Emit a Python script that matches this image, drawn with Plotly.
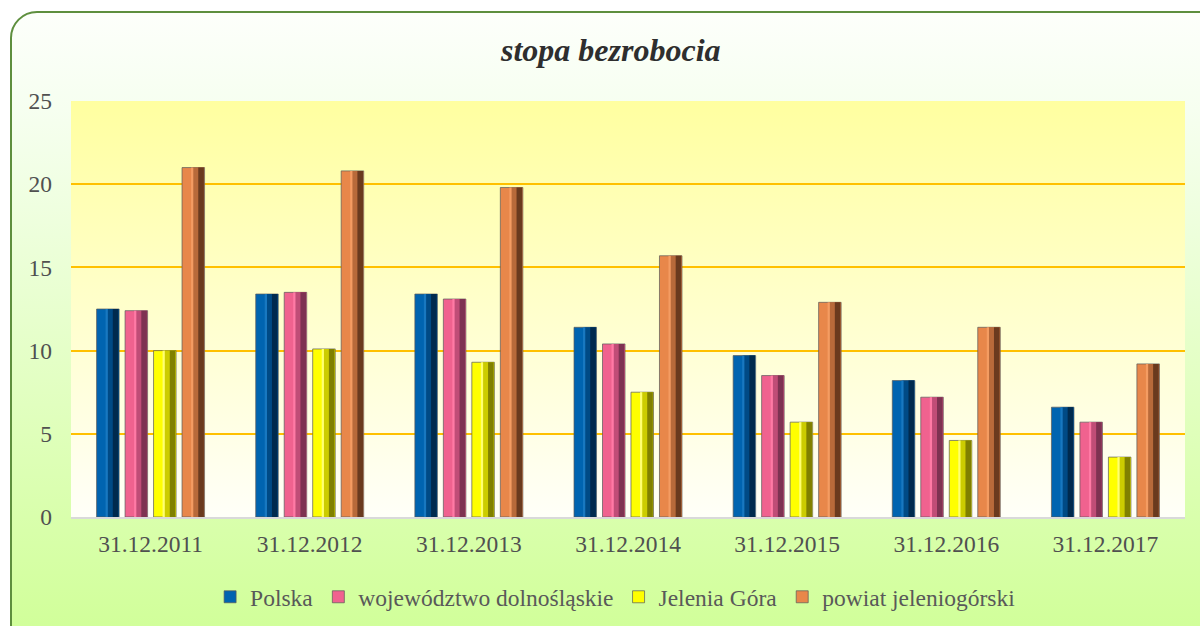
import base64
import plotly.graph_objects as go

categories = ["31.12.2011", "31.12.2012", "31.12.2013", "31.12.2014",
              "31.12.2015", "31.12.2016", "31.12.2017"]
polska = [12.5, 13.4, 13.4, 11.4, 9.7, 8.2, 6.6]
dolnoslaskie = [12.4, 13.5, 13.1, 10.4, 8.5, 7.2, 5.7]
jelenia_gora = [10.0, 10.1, 9.3, 7.5, 5.7, 4.6, 3.6]
powiat = [21.0, 20.8, 19.8, 15.7, 12.9, 11.4, 9.2]
series_names = ["Polska", "województwo dolnośląskie", "Jelenia Góra", "powiat jeleniogórski"]
y_ticks = [0, 5, 10, 15, 20, 25]

series_values = [polska, dolnoslaskie, jelenia_gora, powiat]
base_colors = ["#0064b0", "#f0628f", "#ffff00", "#e8874a"]
mid_colors = ["#004a85", "#c04d77", "#cccc00", "#b86a3a"]
dark_colors = ["#002a4e", "#7e3252", "#808000", "#6a3a1e"]
light_colors = ["#1878c0", "#ff7aa5", "#ffff70", "#f49c62"]

W, H = 1200, 626
ML, MR, MT, MB = 71, 15, 101, 109
PW = W - ML - MR
PH = H - MT - MB

FONT = "Liberation Serif, Times New Roman, serif"


def svg_uri(svg):
    return "data:image/svg+xml;base64," + base64.b64encode(svg.encode("utf-8")).decode("ascii")


frame_w, frame_h = 1230, 650
frame_svg = (
    f"<svg xmlns='http://www.w3.org/2000/svg' width='{frame_w}' height='{frame_h}' "
    f"viewBox='0 0 {frame_w} {frame_h}' preserveAspectRatio='none'>"
    "<defs><linearGradient id='g' x1='0' y1='0' x2='0' y2='1'>"
    "<stop offset='0' stop-color='#fdfffb'/><stop offset='0.15' stop-color='#f6fff0'/>"
    "<stop offset='0.93' stop-color='#d2ff9c'/><stop offset='1' stop-color='#ceff96'/>"
    "</linearGradient></defs>"
    f"<rect x='1' y='1' width='{frame_w - 2}' height='{frame_h - 2}' rx='26' ry='26' "
    "fill='url(#g)' stroke='#5e8f3e' stroke-width='2'/></svg>"
)
plot_svg = (
    "<svg xmlns='http://www.w3.org/2000/svg' width='100' height='100' "
    "viewBox='0 0 100 100' preserveAspectRatio='none'>"
    "<defs><linearGradient id='p' x1='0' y1='0' x2='0' y2='1'>"
    "<stop offset='0' stop-color='#ffffa0'/><stop offset='1' stop-color='#fffff8'/>"
    "</linearGradient></defs><rect x='0' y='0' width='100' height='100' fill='url(#p)'/></svg>"
)

fig = go.Figure()

pitch = 0.179
bw = 0.1415
for i, (name, vals) in enumerate(zip(series_names, series_values)):
    left = (i - 1.5) * pitch - bw / 2
    fig.add_trace(go.Bar(
        x=categories, y=vals, name=name,
        offset=left, width=bw,
        marker=dict(color=base_colors[i], line=dict(color="rgba(90,90,90,0.7)", width=1)),
        hoverinfo="x+y+name",
    ))
    # bevel shading strips (same values, narrower)
    for frac0, frac1, col in [(0.46, 0.97, mid_colors[i]), (0.72, 0.97, dark_colors[i]),
                              (0.40, 0.50, light_colors[i])]:
        fig.add_trace(go.Bar(
            x=categories, y=vals, name=name, showlegend=False,
            offset=left + bw * frac0, width=bw * (frac1 - frac0),
            marker=dict(color=col, line=dict(width=0)),
            hoverinfo="skip",
        ))

fig.update_layout(
    width=W, height=H,
    margin=dict(l=ML, r=MR, t=MT, b=MB),
    barmode="overlay",
    paper_bgcolor="white",
    plot_bgcolor="rgba(0,0,0,0)",
    title=dict(
        text="<b><i>stopa bezrobocia</i></b>",
        font=dict(family=FONT, size=32, color="#2e2e2e"),
        x=0.509, xanchor="center", y=1 - 50 / H, yanchor="middle",
    ),
    xaxis=dict(
        type="category", showgrid=False, showline=True, linecolor="#d9d9d9", linewidth=2,
        ticks="", tickfont=dict(family=FONT, size=23.5, color="#505050"),
        ticklabelstandoff=5,
    ),
    yaxis=dict(
        range=[0, 25], tickvals=y_ticks, ticktext=[str(v) for v in y_ticks],
        showgrid=True, gridcolor="#ffc000", gridwidth=2, zeroline=False, showline=False,
        ticks="", tickfont=dict(family=FONT, size=23.5, color="#505050"),
        ticklabelstandoff=18,
    ),
    legend=dict(
        orientation="h", xref="container", yref="container",
        x=0.513, xanchor="center", y=1 - 597 / H, yanchor="middle",
        font=dict(family=FONT, size=23.5, color="#595959"),
        bgcolor="rgba(0,0,0,0)",
    ),
    images=[
        dict(source=svg_uri(frame_svg), xref="paper", yref="paper",
             x=(10 - ML) / PW, y=(H - MB - 11) / PH, sizex=frame_w / PW, sizey=frame_h / PH,
             xanchor="left", yanchor="top", sizing="stretch", layer="below"),
        dict(source=svg_uri(plot_svg), xref="paper", yref="paper",
             x=0, y=1, sizex=1, sizey=1,
             xanchor="left", yanchor="top", sizing="stretch", layer="below"),
    ],
)

fig.write_html("out.html", config={"displayModeBar": False},
               post_script="document.body.style.margin='0';")
